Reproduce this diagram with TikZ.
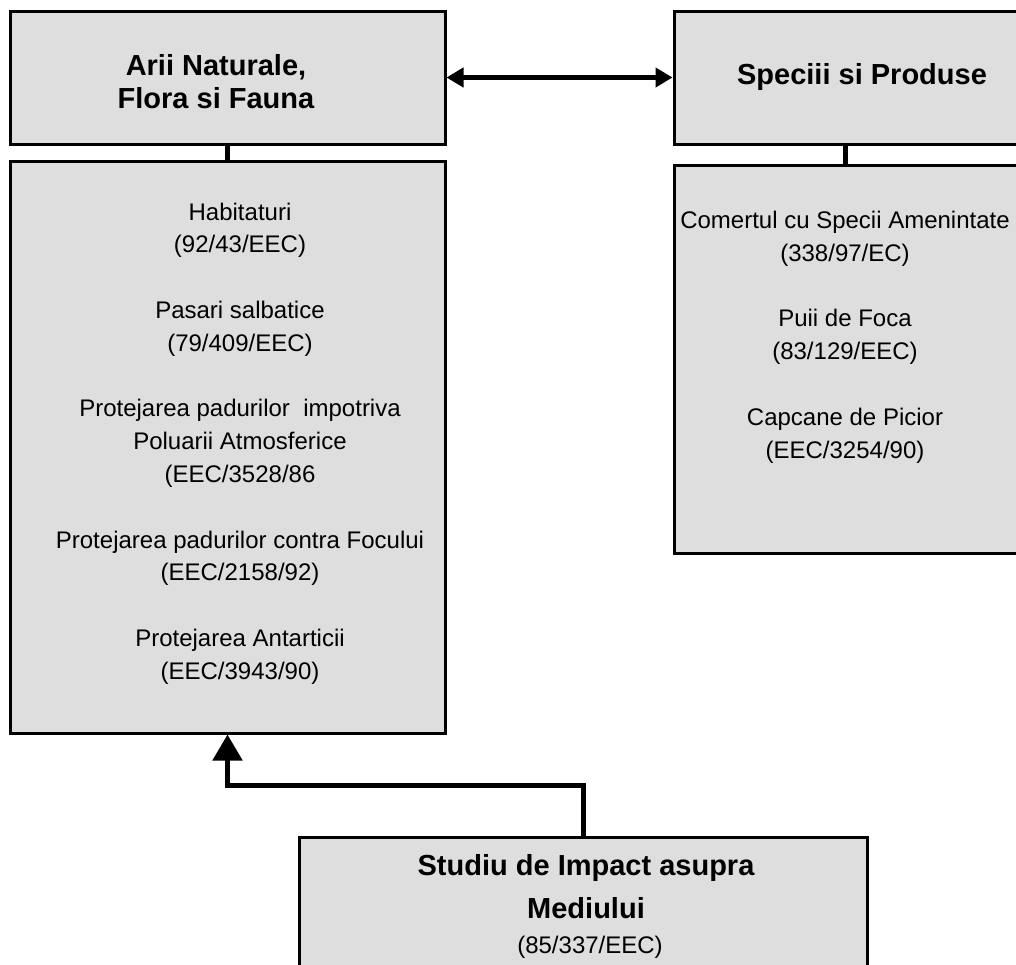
\documentclass[tikz,border=0pt]{standalone}
\usepackage{fontspec}
\setmainfont{Liberation Sans}
\usetikzlibrary{arrows.meta}
\definecolor{boxgray}{RGB}{222,222,222}
\tikzset{
	box/.style={draw, line width=3pt, fill=boxgray, rectangle, inner sep=0pt},
	link/.style={line width=5pt},
	headline/.style={align=center, font=\bfseries\fontsize{29}{33}\selectfont},
	entries/.style={align=center, font=\fontsize{24}{32.8}\selectfont}
}
\begin{document}
\begin{tikzpicture}[x=1pt,y=-1pt]
				\useasboundingbox (0,0) rectangle (1016,964);
				% boxes
				\node[box, minimum width=435pt, minimum height=133pt] (areas) at (227.5,77.5) {};
				\node[box, minimum width=435pt, minimum height=572pt] (areaslist) at (227.5,447) {};
				\node[box, minimum width=343pt, minimum height=133pt] (species) at (845.5,77.5) {};
				\node[box, minimum width=343pt, minimum height=388pt] (specieslist) at (845.5,359) {};
				\node[box, minimum width=568pt, minimum height=148pt] (impact) at (583,911) {};
				% connectors
				\draw[link] (areas.south) -- (areaslist.north);
				\draw[link] (species.south) -- (specieslist.north);
				\draw[line width=4.7pt, {Triangle[length=17pt,width=19pt]}-{Triangle[length=17pt,width=19pt]}] (areas.east) -- (species.west);
				\draw[link, -{Triangle[length=26pt,width=29pt]}] (impact.north) -- ++(0,-50) -| (areaslist.south);
				% titles
				\node[headline] (areastitle) at (216,81.5) {Arii Naturale,\\Flora si Fauna};
				\node[headline] (speciestitle) at (862,77) {Speciii si Produse};
				\node[headline, font=\bfseries\fontsize{29}{43}\selectfont] (impacttitle) at (586,886.5) {Studiu de Impact asupra\\Mediului};
				\node[entries] (impactcode) at (590,947) {(85/337/EEC)};
				% lists
				\node[entries] (areastext) at (240,443.5) {Habitaturi\\(92/43/EEC)\\[32.8pt]
					Pasari salbatice\\(79/409/EEC)\\[32.8pt]
					Protejarea padurilor \ impotriva\\Poluarii Atmosferice\\(EEC/3528/86\\[32.8pt]
					Protejarea padurilor contra Focului\\(EEC/2158/92)\\[32.8pt]
					Protejarea Antarticii\\(EEC/3943/90)};
				\node[entries] (speciestext) at (845,337) {Comertul cu Specii Amenintate\\(338/97/EC)\\[32.8pt]
					Puii de Foca\\(83/129/EEC)\\[32.8pt]
					Capcane de Picior\\(EEC/3254/90)};
			\end{tikzpicture}
\end{document}
